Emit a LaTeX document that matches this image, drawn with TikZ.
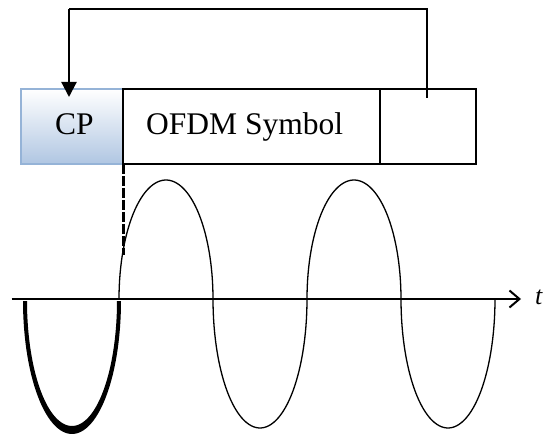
\documentclass[tikz,border=0pt]{standalone}
\usepackage{fontspec}
\setmainfont{Liberation Serif}
\usetikzlibrary{arrows.meta,calc}
\definecolor{cpedge}{RGB}{149,179,215}
\definecolor{cpfill}{RGB}{176,198,226}
\begin{document}
\begin{tikzpicture}[x=1pt,y=-1pt,
  lbl/.style={inner sep=0pt,font=\fontsize{31.5}{38}\selectfont},
  cpbox/.style={draw=cpedge,line width=2.7pt,top color=white,bottom color=cpfill,
                minimum height=75pt,inner sep=0pt},
  cell/.style={draw=black,line width=2pt,minimum height=75pt,inner sep=0pt},
  thinline/.style={line width=1.3pt},
  wave/.style={line width=1.3pt,line join=round},
]
\useasboundingbox (0,0) rectangle (548,435);

% frame: cyclic prefix, symbol body and copied tail
\node[cpbox,minimum width=102pt] (cp) at (72,126.5) {};
\node[cell,minimum width=257pt] (sym) at (251.5,126.5) {};
\node[cell,minimum width=96pt] (tail) at (428,126.5) {};
\node[lbl,anchor=base] (cpt) at (74.5,135) {CP};
\node[lbl,anchor=base west] (symt) at (146,135) {OFDM Symbol};

% feedback path from the tail back into the prefix
\coordinate (src) at (427,98);
\coordinate (topR) at (427,9);
\coordinate (topL) at (69,9);
\coordinate (dst) at (69,97);
\draw[thinline] (src) -- (topR) -- (topL);
\draw[line width=2.2pt,-{Triangle[width=15pt,length=15pt]}] (topL) -- (dst);

% boundary marker between prefix and symbol
\coordinate (dashA) at (123,164);
\coordinate (dashB) at (123,255);
\draw[line width=3pt,dash pattern=on 10pt off 2pt] (dashA) -- (dashB);

% waveform: guard half-period as a tapered stroke, then the symbol
\fill plot[domain=180:360,samples=60,variable=\t] ({72+49*cos(\t)},{301-133*sin(\t)})
  -- plot[domain=360:180,samples=60,variable=\t] ({72+45*cos(\t)},{301-125*sin(\t)}) -- cycle;
\draw[wave] plot[domain=180:0,samples=60,variable=\t] ({166+47*cos(\t)},{299-119*sin(\t)});
\draw[wave] plot[domain=180:360,samples=60,variable=\t] ({260+47*cos(\t)},{299-129*sin(\t)});
\draw[wave] plot[domain=180:0,samples=60,variable=\t] ({354+47*cos(\t)},{299-119*sin(\t)});
\draw[wave] plot[domain=180:360,samples=60,variable=\t] ({448+47*cos(\t)},{299-129*sin(\t)});

% time axis
\coordinate (axL) at (11.5,299);
\coordinate (axR) at (521,299);
\draw[line width=2pt,-{Straight Barb[length=10pt,width=17pt,line width=2pt]}] (axL) -- (axR);
\node[inner sep=0pt,anchor=base west,font=\fontsize{26}{30}\selectfont\itshape] (tl) at (535,305) {t};
\end{tikzpicture}
\end{document}
